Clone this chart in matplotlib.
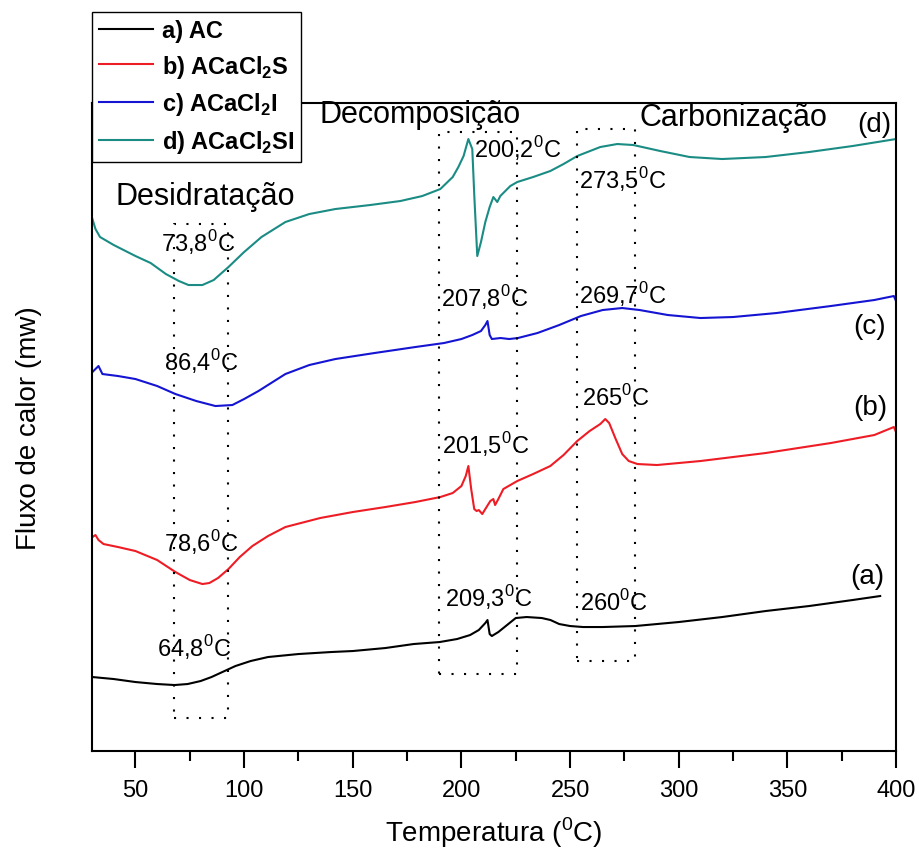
import matplotlib
matplotlib.use("Agg")
import matplotlib.pyplot as plt
from matplotlib.ticker import MultipleLocator

plt.rcParams['font.family'] = ['Liberation Sans', 'DejaVu Sans']
plt.rcParams['mathtext.fontset'] = 'custom'
plt.rcParams['mathtext.rm'] = 'Liberation Sans'
plt.rcParams['mathtext.bf'] = 'Liberation Sans:bold'

# DSC curves (temperature in C, heat flow in arbitrary units, vertically offset)
temp_a = [30.2, 40, 50, 60, 68, 74, 80, 85, 90, 96, 103, 111, 125, 140, 150, 165, 178, 190,
          198, 204, 208, 211, 212, 213, 214, 217, 221, 225, 230, 237, 241, 245, 250, 256,
          265, 280, 300, 320, 340, 360, 380, 392.7]
flux_a = [0.74, 0.72, 0.69, 0.67, 0.66, 0.67, 0.70, 0.74, 0.79, 0.85, 0.90, 0.94, 0.97, 0.99,
          1.00, 1.03, 1.07, 1.09, 1.12, 1.16, 1.21, 1.28, 1.31, 1.17, 1.15, 1.19, 1.26, 1.33,
          1.34, 1.33, 1.31, 1.27, 1.25, 1.24, 1.24, 1.25, 1.29, 1.34, 1.40, 1.45, 1.51, 1.55]

temp_b = [30.2, 31.6, 33, 35.3, 42, 50, 60, 68.4, 75, 80.8, 84, 88, 92.8, 98, 103.8, 111, 119,
          135, 150, 165, 178.8, 190.3, 196, 200, 202, 203.2, 204.5, 205.9, 207, 208, 209.6, 211,
          213.3, 214.7, 215.5, 217, 219.3, 225.7, 233, 240.9, 247, 253.3, 259, 263.9, 266.2,
          268, 271, 274, 277, 281, 290, 310, 340, 370, 390, 399, 400]
flux_b = [2.14, 2.16, 2.11, 2.07, 2.04, 2.00, 1.91, 1.79, 1.71, 1.67, 1.68, 1.73, 1.82, 1.94,
          2.05, 2.15, 2.24, 2.33, 2.39, 2.44, 2.49, 2.54, 2.58, 2.65, 2.75, 2.85, 2.62, 2.42,
          2.40, 2.41, 2.37, 2.42, 2.50, 2.52, 2.46, 2.52, 2.62, 2.70, 2.77, 2.85, 2.96, 3.10,
          3.20, 3.27, 3.32, 3.28, 3.12, 2.97, 2.90, 2.87, 2.86, 2.90, 2.98, 3.08, 3.16, 3.24, 3.19]

temp_c = [30.2, 33, 34.8, 42, 50, 60, 68.4, 78, 86.8, 94.6, 100, 106.6, 119, 130, 142, 160,
          178.8, 192, 200, 205, 209, 211, 212, 213, 214, 218, 222, 226, 235, 245, 255, 265, 274,
          282, 295, 310, 325, 345, 370, 390, 399, 400]
flux_c = [3.79, 3.85, 3.77, 3.75, 3.72, 3.65, 3.57, 3.50, 3.45, 3.46, 3.52, 3.60, 3.77, 3.86,
          3.92, 3.98, 4.04, 4.08, 4.12, 4.16, 4.20, 4.26, 4.30, 4.16, 4.12, 4.13, 4.12, 4.13,
          4.18, 4.26, 4.35, 4.41, 4.43, 4.41, 4.36, 4.33, 4.34, 4.38, 4.45, 4.51, 4.55, 4.50]

temp_d = [30.2, 31.6, 33.7, 40, 50, 57, 64, 70, 74.4, 80.8, 86, 92.8, 100, 108, 119, 130, 142,
          158, 171.9, 182, 190.3, 196, 198.6, 201, 203.2, 205, 206, 207.3, 209, 211, 213, 214.7,
          216.5, 217.9, 222.5, 225.7, 233, 240.9, 247, 253.3, 263.9, 271.7, 279.1, 291.5, 305,
          320, 340, 360, 380, 400]
flux_d = [5.32, 5.22, 5.14, 5.06, 4.95, 4.88, 4.77, 4.70, 4.66, 4.66, 4.71, 4.84, 4.99, 5.14,
          5.29, 5.37, 5.42, 5.46, 5.50, 5.55, 5.62, 5.74, 5.84, 5.95, 6.12, 6.02, 5.52, 4.95,
          5.09, 5.29, 5.44, 5.54, 5.49, 5.55, 5.65, 5.69, 5.74, 5.80, 5.87, 5.95, 6.04, 6.07,
          6.06, 6.00, 5.94, 5.92, 5.94, 5.99, 6.05, 6.12]

legend_labels = [r'a) AC', r'b) ACaCl$_{\mathbf{2}}$S', r'c) ACaCl$_{\mathbf{2}}$I',
                 r'd) ACaCl$_{\mathbf{2}}$SI']
colors = ['black', '#ee1c24', '#1414d2', '#1a8c84']

# peak annotations: (temperature, flux, text)
peak_labels = [
    (79, 5.09, r'73,8$^{0}$C'), (80, 3.90, r'86,4$^{0}$C'),
    (80, 2.09, r'78,6$^{0}$C'), (77, 1.04, r'64,8$^{0}$C'),
    (226, 6.03, r'200,2$^{0}$C'), (210.5, 4.54, r'207,8$^{0}$C'),
    (211, 3.07, r'201,5$^{0}$C'), (212.5, 1.54, r'209,3$^{0}$C'),
    (274, 5.72, r'273,5$^{0}$C'), (274, 4.57, r'269,7$^{0}$C'),
    (271, 3.54, r'265$^{0}$C'), (270, 1.49, r'260$^{0}$C'),
]
stage_labels = [(82, 5.55, 'Desidratação'), (181, 6.37, 'Decomposição'),
                (325, 6.34, 'Carbonização')]
curve_tags = [(390, 6.27, '(d)'), (388, 4.25, '(c)'), (388, 3.44, '(b)'), (387, 1.75, '(a)')]

# dotted boxes: (t_min, t_max, y_min, y_max)
boxes = [(67.9, 92.8, 0.33, 5.27), (189.8, 225.7, 0.77, 6.19), (253.3, 280.0, 0.90, 6.22)]

fig = plt.figure(figsize=(9.19, 8.54), dpi=100)
ax = fig.add_axes([0.1001, 0.1194, 0.8749, 0.7588])

lines = []
for t, f, c in zip([temp_a, temp_b, temp_c, temp_d], [flux_a, flux_b, flux_c, flux_d], colors):
    ln, = ax.plot(t, f, color=c, lw=1.5)
    lines.append(ln)

for x0, x1, y0, y1 in boxes:
    ax.plot([x0, x1, x1, x0, x0], [y0, y0, y1, y1, y0], color='black', lw=1.5,
            linestyle=(0, (1, 5)))

for x, y, s in peak_labels:
    ax.text(x, y, s, fontsize=17, ha='center', va='center')
for x, y, s in stage_labels:
    ax.text(x, y, s, fontsize=22, ha='center', va='center')
for x, y, s in curve_tags:
    ax.text(x, y, s, fontsize=20, ha='center', va='center')

ax.set_xlim(30, 400)
ax.set_ylim(0, 6.48)
ax.xaxis.set_major_locator(MultipleLocator(50))
ax.xaxis.set_minor_locator(MultipleLocator(25))
ax.tick_params(axis='x', which='major', length=12, width=1.5, direction='out',
               labelsize=17, pad=8)
ax.tick_params(axis='x', which='minor', length=7, width=1.5, direction='out')
ax.set_yticks([])
for sp in ax.spines.values():
    sp.set_linewidth(1.5)

ax.set_xlabel(r'Temperatura ($^{0}$C)', fontsize=20, labelpad=10)
ax.set_ylabel('Fluxo de calor (mw)', fontsize=20, labelpad=36)

leg = fig.legend(lines, legend_labels, loc='upper left', bbox_to_anchor=(0.1001, 0.985),
                 borderaxespad=0, prop={'size': 17, 'weight': 'bold'}, fancybox=False,
                 edgecolor='black', framealpha=1, handlelength=2.3, handletextpad=0.35,
                 labelspacing=0.45, borderpad=0.3)
leg.get_frame().set_linewidth(1.0)

fig.savefig('out.png', dpi=100)
